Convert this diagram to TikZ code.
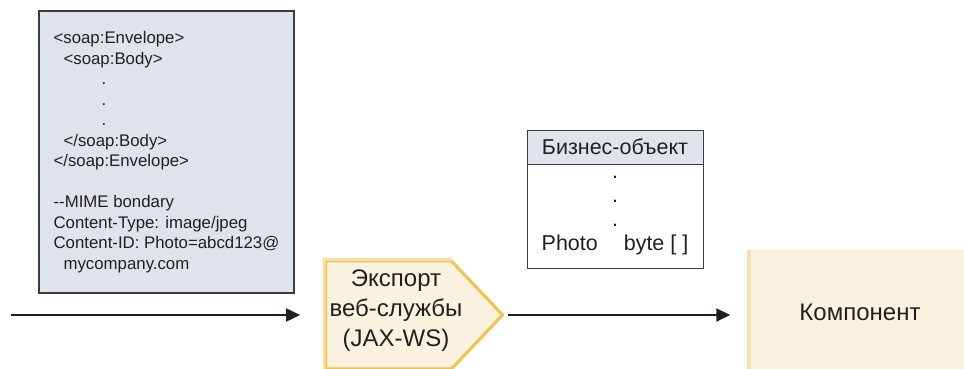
\documentclass[tikz,border=0pt]{standalone}
\usepackage{fontspec}
\setmainfont{Liberation Sans}
\usetikzlibrary{arrows.meta,positioning,shapes.symbols}
\definecolor{soapfill}{RGB}{223,228,234}
\definecolor{boxline}{RGB}{60,60,60}
\definecolor{creamfill}{RGB}{248,242,222}
\definecolor{goldline}{RGB}{242,193,78}
\definecolor{paleline}{RGB}{246,226,168}
\definecolor{textdark}{RGB}{35,31,32}

\begin{document}
\begin{tikzpicture}[x=1pt,y=1pt,
      soap_box/.style={
         rectangle,
         draw=boxline,
         fill=soapfill,
         line width=1.2pt,
         minimum width=255pt,
         minimum height=282pt,
         inner sep=0pt,
         align=left,
         text=textdark,
         font=\fontsize{16.8}{20.5}\selectfont},
      export_node/.style={
         signal,
         signal to=east,
         signal pointer angle=93,
         fill=creamfill,
         draw=goldline,
         line width=3pt,
         inner sep=0pt,
         minimum width=177pt,
         minimum height=108pt},
      export_text/.style={
         align=center,
         inner sep=0pt,
         text=textdark,
         font=\fontsize{24}{30}\selectfont},
      bo_head/.style={
         rectangle,
         draw=boxline,
         fill=soapfill,
         line width=0.8pt,
         outer sep=0pt,
         minimum width=176pt,
         minimum height=34pt,
         inner sep=0pt,
         text=textdark,
         font=\fontsize{21.5}{24}\selectfont},
      bo_body/.style={
         bo_head,
         fill=white,
         minimum height=104pt,
         align=center},
      comp_node/.style={
         rectangle,
         fill=creamfill,
         draw=paleline!60,
         line width=1.5pt,
         minimum width=220pt,
         minimum height=122pt,
         text=textdark,
         font=\fontsize{24}{28}\selectfont},
      pale_edge/.style={
         draw=paleline,
         line width=3pt},
      arrow_black/.style={
         -{Triangle[length=14pt,width=13pt]},
         line width=2pt,
         draw=textdark}
]
      \useasboundingbox (0,0) rectangle (964,369);

      % message
      \node[soap_box] (soap) at (166.5,217) {%
        <soap:Envelope>\\
        \hspace*{10pt}<soap:Body>\\
        \hspace*{48pt}.\\
        \hspace*{48pt}.\\
        \hspace*{48pt}.\\
        \hspace*{10pt}</soap:Body>\\
        </soap:Envelope>\\[20.5pt]
        -{}-MIME bondary\\
        Content-Type: image/jpeg\\
        Content-ID: Photo=abcd123@\\
        \hspace*{10pt}mycompany.com};

      % export
      \node[export_node,
            label={[export_text,xshift=7.5pt,yshift=4.5pt]center:{Экспорт\\веб-службы\\(JAX-WS)}}]
            (exp) at (388.5,54) {};
      \draw[pale_edge] (exp.south west) -- (exp.north west) -- (exp.north east);

      % business object
      \node[bo_head] (bo) at (615,222) {Бизнес-объект};
      \node[bo_body,below=0pt of bo] (bobody) {.\\.\\.\\Photo\hspace{20pt} byte [ ]};

      % component
      \node[comp_node] (comp) at (860,57) {Компонент};
      \draw[pale_edge,line width=4pt] (comp.south west) -- (comp.north west);

      \coordinate (src) at (11,54);

      \foreach \i/\j/\a/\b in {% start/end/shorten start/shorten end
        src/exp.west/0/24,
        exp.east/exp.east -| comp.west/3/19}
      \draw[arrow_black,shorten <=\a pt,shorten >=\b pt] (\i) -- (\j);

\end{tikzpicture}
\end{document}
